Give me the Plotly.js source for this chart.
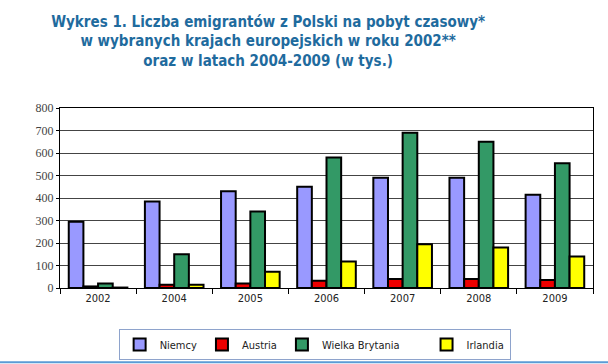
<!DOCTYPE html>
<html>
<head>
<meta charset="utf-8">
<script src="https://cdn.plot.ly/plotly-3.0.1.min.js"></script>
<style>html,body{margin:0;padding:0;background:#fff;}#chart{width:608px;height:364px;}</style>
</head>
<body>
<div id="chart"></div>
<script>
var years = ['2002', '2004', '2005', '2006', '2007', '2008', '2009'];
var niemcy = [294, 385, 430, 450, 490, 490, 415];
var austria = [7, 14, 20, 32, 40, 40, 36];
var wielkaBrytania = [20, 150, 340, 580, 690, 650, 555];
var irlandia = [2, 15, 72, 118, 195, 180, 140];
var seriesNames = ['Niemcy', 'Austria', 'Wielka Brytania', 'Irlandia'];
var seriesColors = ['#9999ff', '#ee0000', '#339966', '#ffff00'];
var yTicks = [0, 100, 200, 300, 400, 500, 600, 700, 800];

var sans = "Tahoma, 'DejaVu Sans Condensed', 'DejaVu Sans', sans-serif";
var values = [niemcy, austria, wielkaBrytania, irlandia];
var traces = values.map(function (v, i) {
  return {
    type: 'bar',
    x: years,
    y: v,
    name: seriesNames[i] + (i === 2 ? '\u00a0\u00a0\u00a0\u00a0\u00a0\u00a0\u00a0' : ''),
    marker: {color: seriesColors[i], line: {color: '#000', width: 2}}
  };
});

var layout = {
  width: 608, height: 364,
  margin: {l: 60, r: 15, t: 108, b: 76, autoexpand: false},
  paper_bgcolor: '#fff', plot_bgcolor: '#fff',
  barmode: 'group', bargap: 0.23, bargroupgap: 0,
  title: {
    text: 'Wykres 1. Liczba emigrantów z Polski na pobyt czasowy*<br>w wybranych krajach europejskich w roku 2002**<br>oraz w latach 2004-2009 (w tys.)',
    font: {family: sans, size: 15, color: '#1f6b9e', weight: 'bold'},
    x: 0.441, xref: 'container', xanchor: 'center',
    y: 0.926, yref: 'container', yanchor: 'middle'
  },
  xaxis: {
    type: 'category', tickson: 'boundaries', ticks: 'outside', ticklen: 5, tickcolor: '#000',
    showline: true, linecolor: '#000', linewidth: 1, mirror: true, showgrid: false,
    tickfont: {family: sans, size: 11, color: '#222'}
  },
  yaxis: {
    range: [0, 800], tickvals: yTicks, ticks: 'outside', ticklen: 3, tickcolor: '#000',
    showline: true, linecolor: '#000', linewidth: 1, mirror: true,
    showgrid: true, gridcolor: '#444', gridwidth: 1, zeroline: false,
    tickfont: {family: "'Liberation Serif', 'DejaVu Serif', serif", size: 12, color: '#444'}
  },
  showlegend: true,
  legend: {
    orientation: 'h', x: 0.110, xanchor: 'left', y: -0.228, yanchor: 'top',
    bordercolor: '#8ea3cc', borderwidth: 1,
    font: {family: sans, size: 11, color: '#222'}
  },
  shapes: [{
    type: 'line', xref: 'paper', yref: 'paper', x0: -0.2, x1: 1.1, y0: -0.412, y1: -0.412,
    line: {color: '#5b9bd5', width: 2}
  }]
};

Plotly.newPlot('chart', traces, layout, {displayModeBar: false, staticPlot: true});
</script>
</body>
</html>
